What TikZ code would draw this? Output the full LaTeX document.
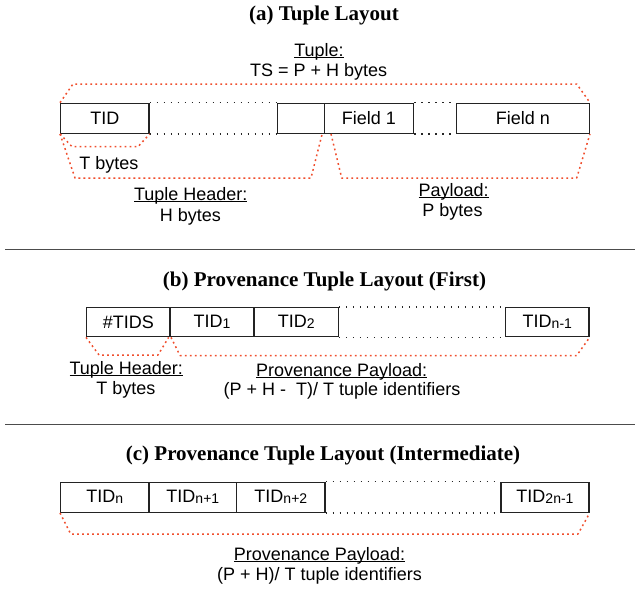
\documentclass[tikz,border=0pt]{standalone}
\usepackage{fontspec}
\setmainfont{Liberation Sans}
\newfontfamily\titlefont{Liberation Serif}
\definecolor{dotred}{RGB}{240,78,45}
\definecolor{boxgray}{RGB}{35,35,35}
\newcommand\myul[1]{\setbox0\hbox{#1}\rlap{\rule[-1.6pt]{\wd0}{0.9pt}}\box0}
\newcommand\sbs[1]{\raisebox{-1pt}{\fontsize{14}{14}\selectfont #1}}
\tikzset{
 cellbox/.style={draw=boxgray, line width=1.35pt, rectangle, inner sep=0pt, font=\fontsize{18}{21}\selectfont},
 blackdots/.style={draw=black!85, line width=1.3pt, dash pattern=on 1.5pt off 5.5pt},
 reddots/.style={draw=dotred, line width=1.5pt, dash pattern=on 1.8pt off 3.2pt, line join=round},
 lbl/.style={inner sep=0pt, anchor=base, font=\fontsize{18}{21}\selectfont},
 ttl/.style={inner sep=0pt, anchor=base, font=\titlefont\bfseries\fontsize{21}{25}\selectfont},
 sepline/.style={draw=black!70, line width=1pt}
}
\begin{document}
\begin{tikzpicture}[x=1pt,y=-1pt]
\useasboundingbox (0,0) rectangle (635,589);
% ---------- (a)
\node[ttl] (ta) at (324,20.7) {(a) Tuple Layout};
\node[lbl] (tuplelbl) at (319,56) {\myul{Tuple:}};
\node[lbl] (tsz) at (318.7,76.7) {TS = P + H bytes};
\node[cellbox, minimum width=88.3pt, minimum height=30pt] (tid) at (104.85,118.3) {TID};
\node[cellbox, minimum width=46.6pt, minimum height=30pt] (empty) at (301,118.3) {};
\node[cellbox, minimum width=89.1pt, minimum height=30pt] (f1) at (368.85,118.3) {Field 1};
\node[cellbox, minimum width=132.6pt, minimum height=30pt] (fn) at (523,118.3) {Field n};
\draw[blackdots] (tid.north east) -- (empty.north west);
\draw[blackdots] (tid.south east) -- (empty.south west);
\draw[blackdots] (f1.north east) -- (fn.north west);
\draw[blackdots] (f1.south east) -- (fn.south west);
\draw[reddots] (tid.north west) -- (73,84) -- (576.7,84) -- (fn.north east);
\draw[reddots] (tid.south west) -- (72,146.7) -- (138,146.7) -- (tid.south east);
\draw[reddots] (tid.south west) -- (75,178) -- (311,178) -- ([xshift=-1.5pt]f1.south west);
\draw[reddots] ([xshift=7.4pt]f1.south west) -- (341.7,178) -- (576.7,178) -- (fn.south east);
\node[lbl] (tb) at (109,169.3) {T bytes};
\node[lbl] (thl) at (190.7,200) {\myul{Tuple Header:}};
\node[lbl] (hb) at (190.3,221) {H bytes};
\node[lbl] (pl) at (453.7,196.7) {\myul{Payload:}};
\node[lbl] (pb) at (452.5,216) {P bytes};
\draw[sepline] (5,249) -- (635,249);
% ---------- (b)
\node[ttl] (tb2) at (324.5,286.7) {(b) Provenance Tuple Layout (First)};
\node[cellbox, minimum width=83.3pt, minimum height=29pt] (ntids) at (128.35,322.2) {\#TIDS};
\node[cellbox, minimum width=84pt, minimum height=29pt] (b1) at (212,322.2) {TID\sbs{1}};
\node[cellbox, minimum width=84.3pt, minimum height=29pt] (b2) at (296.15,322.2) {TID\sbs{2}};
\node[cellbox, minimum width=83.3pt, minimum height=29pt] (bn) at (547.35,322.2) {TID\sbs{n-1}};
\draw[blackdots] (b2.north east) -- (bn.north west);
\draw[blackdots] (b2.south east) -- (bn.south west);
\draw[reddots] (ntids.south west) -- (99,355) -- (158,355) -- ([xshift=-0.7pt]b1.south west);
\draw[reddots] ([xshift=1.7pt]b1.south west) -- (180,355.5) -- (576.7,355.5) -- (bn.south east);
\node[lbl] (bth) at (126.2,374.3) {\myul{Tuple Header:}};
\node[lbl] (btb) at (125.8,394.3) {T bytes};
\node[lbl] (bpp) at (341.7,376) {\myul{Provenance Payload:}};
\node[lbl] (bpt) at (342,395) {(P + H -\ \ T)/ T tuple identifiers};
\draw[sepline] (5,424) -- (635,424);
% ---------- (c)
\node[ttl] (tc) at (323,460) {(c) Provenance Tuple Layout (Intermediate)};
\node[cellbox, minimum width=88.3pt, minimum height=30pt] (c1) at (104.85,497.3) {TID\sbs{n}};
\node[cellbox, minimum width=87.7pt, minimum height=30pt] (c2) at (192.85,497.3) {TID\sbs{n+1}};
\node[cellbox, minimum width=88.3pt, minimum height=30pt] (c3) at (280.85,497.3) {TID\sbs{n+2}};
\node[cellbox, minimum width=88pt, minimum height=30pt] (cn) at (545,497.3) {TID\sbs{2n-1}};
\draw[blackdots] (c3.north east) -- (cn.north west);
\draw[blackdots] (c3.south east) -- (cn.south west);
\draw[reddots] (c1.south west) -- (70.7,534) -- (578,534) -- (cn.south east);
\node[lbl] (cpp) at (319.5,560.7) {\myul{Provenance Payload:}};
\node[lbl] (cpt) at (319.5,580.7) {(P + H)/ T tuple identifiers};
\end{tikzpicture}
\end{document}
